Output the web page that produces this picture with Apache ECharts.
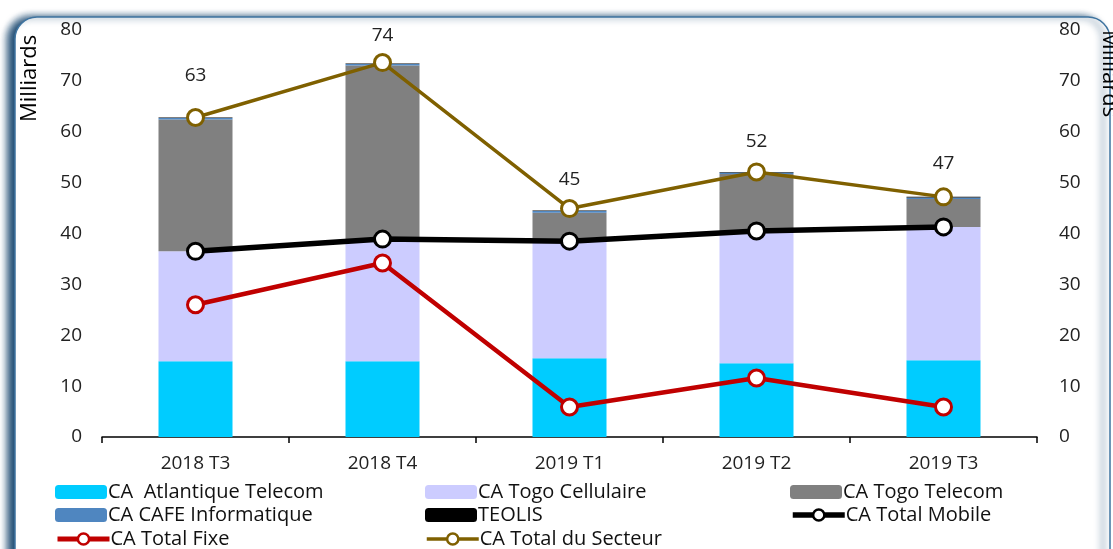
<!DOCTYPE html>
<html>
<head>
<meta charset="utf-8">
<script src="https://cdn.jsdelivr.net/npm/echarts@6/dist/echarts.min.js"></script>
<style>
  html, body { margin: 0; padding: 0; background: #fff; }
  #chart { width: 1113px; height: 549px; }
</style>
</head>
<body>
<div id="chart"></div>
<script>
// trimestres
var periodes = ['2018 T3', '2018 T4', '2019 T1', '2019 T2', '2019 T3'];

// barres empilees (milliards)
var caAtlantique = [14.9, 14.9, 15.5, 14.5, 15.1];
var caCellulaire = [21.6, 24.0, 23.0, 26.0, 26.2];
var caTogoTelecom = [25.9, 34.1, 5.6, 11.2, 5.5];
var caCafe = [0.3, 0.3, 0.3, 0.3, 0.3];
var caTeolis = [0.1, 0.1, 0.1, 0.1, 0.1];

// courbes
var caTotalMobile = [36.5, 38.9, 38.5, 40.5, 41.3];
var caTotalFixe = [26.0, 34.2, 5.9, 11.6, 5.9];
var caTotalSecteur = [62.8, 73.6, 44.9, 52.1, 47.2];

// ecart des etiquettes au-dessus des points (style)
var ecartEtiquettes = [23, 8, 10, 11, 14];

var police = 'Open Sans';

function barre(nom, data, couleur) {
  return {
    name: nom,
    type: 'bar',
    stack: 'ca',
    barWidth: 74,
    itemStyle: { color: couleur },
    data: data
  };
}

function courbe(nom, data, couleur, epaisseur) {
  return {
    name: nom,
    type: 'line',
    symbol: 'circle',
    symbolSize: 16,
    lineStyle: { color: couleur, width: epaisseur },
    itemStyle: { color: '#fff', borderColor: couleur, borderWidth: 3 },
    z: 5,
    data: data
  };
}

// une legende par element, placee comme dans Excel
function legende(nom, x, y, trait) {
  var l = {
    left: x, top: y,
    itemWidth: 52, itemHeight: 14, itemGap: 0,
    textStyle: { fontFamily: police, fontSize: 20, color: '#111', padding: [0, 0, 0, -4] },
    data: [nom]
  };
  if (trait) {
    l.lineStyle = { width: trait };
    l.itemStyle = { borderWidth: 2.5 };
  }
  return l;
}

var chart = echarts.init(document.getElementById('chart'));

var secteur = courbe('CA Total du Secteur', caTotalSecteur.map(function (v, i) {
  return { value: v, label: { distance: ecartEtiquettes[i] } };
}), '#7f6000', 3.5);
secteur.label = {
  show: true,
  position: 'top',
  fontFamily: police,
  fontSize: 19,
  color: '#222',
  formatter: function (p) { return Math.round(p.value); }
};

var axeTexte = { fontFamily: police, fontSize: 19, color: '#222' };

chart.setOption({
  animation: false,
  graphic: [{
    type: 'rect',
    z: -10,
    shape: { x: 15, y: 17, width: 1095, height: 560, r: 22 },
    style: {
      fill: '#fff',
      stroke: '#3f74a0',
      lineWidth: 1.5,
      shadowBlur: 7,
      shadowOffsetX: -7,
      shadowColor: 'rgba(23,70,110,0.95)'
    }
  }, {
    type: 'text',
    x: 19,
    y: 122,
    rotation: Math.PI / 2,
    style: { text: 'Milliards', font: '22px "Open Sans"', fill: '#000' }
  }, {
    type: 'text',
    x: 1120,
    y: 30,
    rotation: -Math.PI / 2,
    style: { text: 'Milliards', font: '22px "Open Sans"', fill: '#000' }
  }],
  grid: { left: 102, right: 76, top: 30, bottom: 112 },
  legend: [
    legende('CA  Atlantique Telecom', 50, 477),
    legende('CA CAFE Informatique', 50, 500),
    legende('CA Total Fixe', 50, 524, 5),
    legende('CA Togo Cellulaire', 420, 477),
    legende('TEOLIS', 420, 500),
    legende('CA Total du Secteur', 420, 524, 3.5),
    legende('CA Togo Telecom', 785, 477),
    legende('CA Total Mobile', 785, 500, 5.5)
  ],
  xAxis: {
    type: 'category',
    data: periodes,
    axisLine: { lineStyle: { color: '#000', width: 1.5 } },
    axisTick: { show: true, length: 6, lineStyle: { color: '#000', width: 1.5 } },
    axisLabel: Object.assign({ margin: 17 }, axeTexte)
  },
  yAxis: [{
    type: 'value', min: 0, max: 80, interval: 10,
    axisLine: { show: false }, axisTick: { show: false },
    splitLine: { show: false },
    axisLabel: Object.assign({ margin: 20 }, axeTexte)
  }, {
    type: 'value', min: 0, max: 80, interval: 10, position: 'right',
    axisLine: { show: false }, axisTick: { show: false },
    splitLine: { show: false },
    axisLabel: Object.assign({ margin: 22 }, axeTexte)
  }],
  series: [
    barre('CA  Atlantique Telecom', caAtlantique, '#00ccff'),
    barre('CA Togo Cellulaire', caCellulaire, '#ccccff'),
    barre('CA Togo Telecom', caTogoTelecom, '#808080'),
    barre('CA CAFE Informatique', caCafe, '#4f86c0'),
    barre('TEOLIS', caTeolis, '#000'),
    courbe('CA Total Mobile', caTotalMobile, '#000', 5.5),
    courbe('CA Total Fixe', caTotalFixe, '#c00000', 4.5),
    secteur
  ]
});
</script>
</body>
</html>
